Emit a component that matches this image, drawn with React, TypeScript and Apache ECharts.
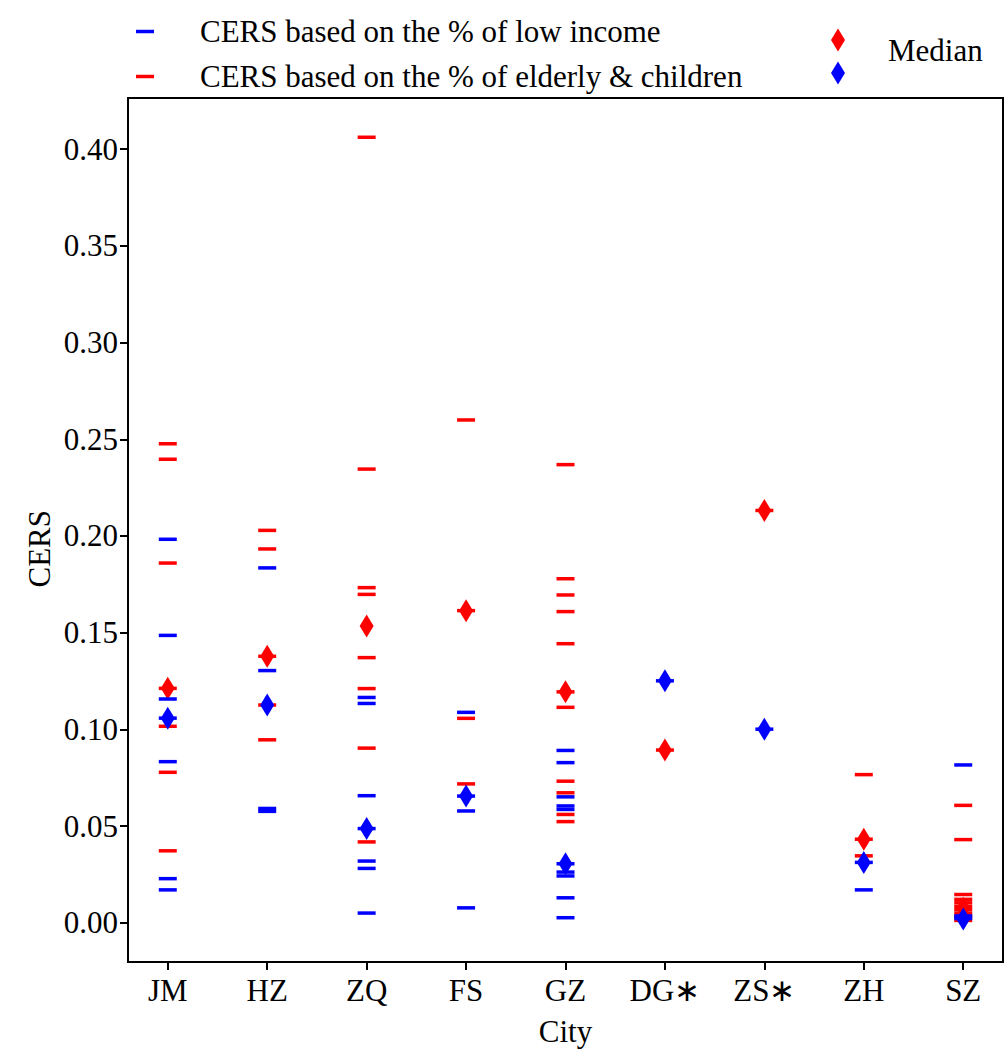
import React, { useEffect, useRef } from "react";
import * as echarts from "echarts";

const cities = ["JM", "HZ", "ZQ", "FS", "GZ", "DG\u2217", "ZS\u2217", "ZH", "SZ"];

// CERS based on the % of low income (blue bars), per city
const lowIncome: number[][] = [
  [0.1983, 0.1486, 0.1157, 0.1058, 0.0833, 0.0228, 0.017],
  [0.1835, 0.1304, 0.0591, 0.0576],
  [0.1165, 0.1134, 0.0657, 0.0487, 0.0319, 0.0281, 0.005],
  [0.1088, 0.0655, 0.0578, 0.0077],
  [0.0891, 0.0828, 0.0651, 0.0604, 0.0586, 0.0305, 0.0262, 0.0242, 0.0129, 0.0026],
  [0.1251],
  [0.1001],
  [0.0312, 0.017],
  [0.0816, 0.0035, 0.0022],
];

// CERS based on the % of elderly & children (red bars), per city
const elderlyChildren: number[][] = [
  [0.2477, 0.2397, 0.186, 0.1212, 0.1016, 0.0778, 0.0372],
  [0.2029, 0.1933, 0.1378, 0.1126, 0.0946],
  [0.4062, 0.2346, 0.1733, 0.1698, 0.1371, 0.1211, 0.0903, 0.0418],
  [0.26, 0.1614, 0.1057, 0.0718],
  [0.2369, 0.1779, 0.1695, 0.1609, 0.1443, 0.1194, 0.1114, 0.0732, 0.0672, 0.056, 0.0523],
  [0.0893],
  [0.2132],
  [0.0766, 0.0432, 0.0346],
  [0.0607, 0.043, 0.0146, 0.0121, 0.0103, 0.0084, 0.0067, 0.0049, 0.0031, 0.0012],
];

const medianElderly = [0.1212, 0.1378, 0.1534, 0.1614, 0.1194, 0.0893, 0.2132, 0.0432, 0.0075];
const medianLowIncome = [0.1058, 0.1126, 0.0487, 0.0655, 0.0305, 0.1251, 0.1001, 0.0312, 0.002];

const yTicks = [0, 0.05, 0.1, 0.15, 0.2, 0.25, 0.3, 0.35, 0.4];
const yMin = -0.0203;
const yMax = 0.4265;

const LOW_NAME = "CERS based on the % of low income";
const ELD_NAME = "CERS based on the % of elderly & children";

const FONT = '"Liberation Serif", "Times New Roman", serif';
const BLUE = "#0000ff";
const RED = "#ff0000";

export default function App() {
  const ref = useRef<HTMLDivElement>(null);
  useEffect(() => {
    if (!ref.current) return;
    const chart = echarts.init(ref.current, null, { renderer: "svg" });
    const toPts = (arr: number[][]) =>
      arr.flatMap((vals, i) => vals.map((v) => [i, v]));
    const medPts = (arr: number[]) => arr.map((v, i) => [i, v]);
    const xIdx = cities.map((_, i) => i);

    const barSym = { symbol: "rect", symbolSize: [18, 3.5] as any };
    const diaSym = { symbol: "diamond", symbolSize: [14, 23] as any };

    chart.setOption({
      animation: false,
      textStyle: { fontFamily: FONT },
      grid: {
        left: 128,
        top: 98,
        right: 1,
        bottom: 84,
        show: true,
        borderColor: "#000",
        borderWidth: 2,
        containLabel: false,
      },
      legend: [
        {
          data: [LOW_NAME, ELD_NAME],
          orient: "vertical",
          left: 131,
          top: 11,
          itemGap: 14,
          itemWidth: 18,
          itemHeight: 3.5,
          icon: "rect",
          selectedMode: false,
          textStyle: {
            fontFamily: FONT,
            fontSize: 31,
            color: "#000",
            lineHeight: 31,
            padding: [0, 0, 0, 41],
          },
        },
        {
          data: ["Median (elderly & children)", "Median (low income)"],
          orient: "vertical",
          left: 826,
          top: 23.5,
          itemGap: 10,
          itemWidth: 14,
          itemHeight: 23,
          icon: "diamond",
          selectedMode: false,
          formatter: () => "",
          textStyle: { fontSize: 1 },
        },
      ],
      graphic: [
        {
          type: "text",
          left: 888,
          top: 35,
          style: { text: "Median", font: `31px ${FONT}`, fill: "#000" },
        },
        {
          type: "text",
          left: 24,
          top: 510,
          rotation: Math.PI / 2,
          style: { text: "CERS", font: `31px ${FONT}`, fill: "#000" },
        },
      ],
      xAxis: {
        type: "value",
        min: -0.4,
        max: 8.4,
        name: "City",
        nameLocation: "middle",
        nameGap: 54,
        nameTextStyle: { fontFamily: FONT, fontSize: 31, color: "#000" },
        axisLine: { show: true, onZero: false, lineStyle: { color: "#000", width: 2 } },
        axisTick: {
          show: true,
          length: 8,
          lineStyle: { color: "#000", width: 2 },
          customValues: xIdx,
        },
        axisLabel: {
          customValues: xIdx,
          formatter: (v: number) => cities[Math.round(v)] ?? "",
          fontFamily: FONT,
          fontSize: 31,
          color: "#000",
          margin: 13,
        },
        splitLine: { show: false },
      },
      yAxis: {
        type: "value",
        min: yMin,
        max: yMax,
        axisLine: { show: true, onZero: false, lineStyle: { color: "#000", width: 2 } },
        axisTick: {
          show: true,
          length: 8,
          lineStyle: { color: "#000", width: 2 },
          customValues: yTicks,
        },
        axisLabel: {
          customValues: yTicks,
          formatter: (v: number) => v.toFixed(2),
          fontFamily: FONT,
          fontSize: 31,
          color: "#000",
          margin: 10,
        },
        splitLine: { show: false },
      },
      series: [
        {
          name: ELD_NAME,
          type: "scatter",
          data: toPts(elderlyChildren),
          ...barSym,
          itemStyle: { color: RED, opacity: 1 },
        },
        {
          name: "Median (elderly & children)",
          type: "scatter",
          data: medPts(medianElderly),
          ...diaSym,
          itemStyle: { color: RED, opacity: 1 },
        },
        {
          name: LOW_NAME,
          type: "scatter",
          data: toPts(lowIncome),
          ...barSym,
          itemStyle: { color: BLUE, opacity: 1 },
        },
        {
          name: "Median (low income)",
          type: "scatter",
          data: medPts(medianLowIncome),
          ...diaSym,
          itemStyle: { color: BLUE, opacity: 1 },
        },
      ],
    });
    return () => chart.dispose();
  }, []);
  return (
    <div
      ref={ref}
      style={{ position: "fixed", left: 0, top: 0, width: 1004, height: 1052, background: "#fff" }}
    />
  );
}
